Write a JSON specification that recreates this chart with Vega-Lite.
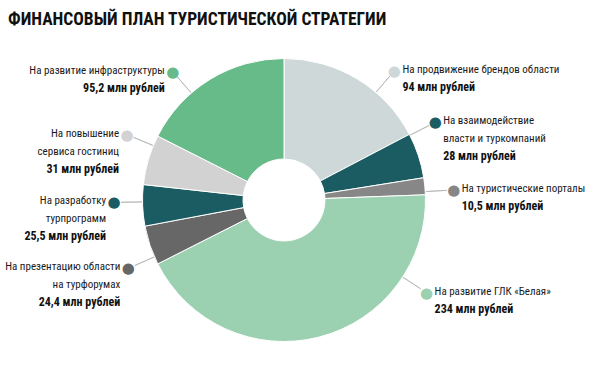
{
  "$schema": "https://vega.github.io/schema/vega-lite/v6.json",
  "autosize": {"type": "none"},
  "width": 568,
  "height": 320,
  "padding": {"left": 0, "top": 40, "right": 22, "bottom": 5},
  "background": "white",
  "config": {"view": {"stroke": null}},
  "title": {
    "text": "ФИНАНСОВЫЙ ПЛАН ТУРИСТИЧЕСКОЙ СТРАТЕГИИ",
    "anchor": "start",
    "frame": "group",
    "dx": 8,
    "offset": 12,
    "font": "Roboto Condensed, Roboto",
    "fontSize": 17.5,
    "fontWeight": "bold",
    "color": "#111111"
  },
  "data": {
    "values": [
      {"k": 1, "cat": "бренды", "value": 94, "name": ["На продвижение брендов области"], "amount": "94 млн рублей", "labelAngle": 40.5},
      {"k": 2, "cat": "туркомпании", "value": 28, "name": ["На взаимодействие", "власти и туркомпаний"], "amount": "28 млн рублей", "labelAngle": 62.8},
      {"k": 3, "cat": "порталы", "value": 10.5, "name": ["На туристические порталы"], "amount": "10,5 млн рублей", "labelAngle": 86.6},
      {"k": 4, "cat": "ГЛК", "value": 234, "name": ["На развитие ГЛК «Белая»"], "amount": "234 млн рублей", "labelAngle": 123},
      {"k": 5, "cat": "турфорумы", "value": 24.4, "name": ["На презентацию области", "на турфорумах"], "amount": "24,4 млн рублей", "labelAngle": 246.3},
      {"k": 6, "cat": "турпрограммы", "value": 25.5, "name": ["На разработку", "турпрограмм"], "amount": "25,5 млн рублей", "labelAngle": 269.2},
      {"k": 7, "cat": "гостиницы", "value": 31, "name": ["На повышение", "сервиса гостиниц"], "amount": "31 млн рублей", "labelAngle": 292.6},
      {"k": 8, "cat": "инфраструктура", "value": 95.2, "name": ["На развитие инфраструктуры"], "amount": "95,2 млн рублей", "labelAngle": 319.1}
    ]
  },
  "resolve": {"scale": {"theta": "independent"}},
  "layer": [
    {
      "mark": {"type": "arc", "radius": 163, "radius2": 142, "fill": null, "filled": false, "stroke": "#b5b5b5", "strokeWidth": 0.8},
      "encoding": {
        "theta": {"field": "labelAngle", "type": "quantitative", "stack": false, "scale": {"domain": [0, 360]}},
        "theta2": {"field": "labelAngle"}
      }
    },
    {
      "mark": {"type": "arc", "outerRadius": 141.5, "innerRadius": 41, "stroke": "white", "strokeWidth": 1},
      "encoding": {
        "theta": {"field": "value", "type": "quantitative", "stack": true},
        "order": {"field": "k", "type": "quantitative"},
        "color": {
          "field": "cat", "type": "nominal", "legend": null,
          "scale": {
            "domain": ["бренды", "туркомпании", "порталы", "ГЛК", "турфорумы", "турпрограммы", "гостиницы", "инфраструктура"],
            "range": ["#cfd8d8", "#1b5b62", "#878787", "#9bd1b1", "#676767", "#1b5b62", "#d2d2d2", "#66bb88"]
          }
        }
      }
    },
    {
      "mark": {"type": "text", "radius": 170, "text": "●", "font": "DejaVu Sans", "fontSize": 15, "align": "center", "baseline": "middle"},
      "encoding": {
        "theta": {"field": "labelAngle", "type": "quantitative", "stack": false, "scale": {"domain": [0, 360]}},
        "color": {"field": "cat", "type": "nominal", "legend": null}
      }
    },
    {
      "transform": [{"filter": "datum.labelAngle < 180"}],
      "mark": {"type": "text", "radius": 170, "align": "left", "baseline": "top", "dx": 8, "dy": -7, "lineHeight": 18, "font": "Roboto Condensed, Roboto", "fontSize": 11, "fill": "#1a1a1a"},
      "encoding": {
        "theta": {"field": "labelAngle", "type": "quantitative", "stack": false, "scale": {"domain": [0, 360]}},
        "text": {"field": "name"}
      }
    },
    {
      "transform": [{"filter": "datum.labelAngle >= 180"}],
      "mark": {"type": "text", "radius": 170, "align": "right", "baseline": "top", "dx": -8, "dy": -7, "lineHeight": 18, "font": "Roboto Condensed, Roboto", "fontSize": 11, "fill": "#1a1a1a"},
      "encoding": {
        "theta": {"field": "labelAngle", "type": "quantitative", "stack": false, "scale": {"domain": [0, 360]}},
        "text": {"field": "name"}
      }
    },
    {
      "transform": [{"filter": "datum.labelAngle < 180 && length(datum.name) == 1"}],
      "mark": {"type": "text", "radius": 170, "align": "left", "baseline": "top", "dx": 8, "dy": 11, "font": "Roboto Condensed, Roboto", "fontSize": 12, "fontWeight": "bold", "fill": "#111111"},
      "encoding": {
        "theta": {"field": "labelAngle", "type": "quantitative", "stack": false, "scale": {"domain": [0, 360]}},
        "text": {"field": "amount"}
      }
    },
    {
      "transform": [{"filter": "datum.labelAngle < 180 && length(datum.name) == 2"}],
      "mark": {"type": "text", "radius": 170, "align": "left", "baseline": "top", "dx": 8, "dy": 29, "font": "Roboto Condensed, Roboto", "fontSize": 12, "fontWeight": "bold", "fill": "#111111"},
      "encoding": {
        "theta": {"field": "labelAngle", "type": "quantitative", "stack": false, "scale": {"domain": [0, 360]}},
        "text": {"field": "amount"}
      }
    },
    {
      "transform": [{"filter": "datum.labelAngle >= 180 && length(datum.name) == 1"}],
      "mark": {"type": "text", "radius": 170, "align": "right", "baseline": "top", "dx": -8, "dy": 11, "font": "Roboto Condensed, Roboto", "fontSize": 12, "fontWeight": "bold", "fill": "#111111"},
      "encoding": {
        "theta": {"field": "labelAngle", "type": "quantitative", "stack": false, "scale": {"domain": [0, 360]}},
        "text": {"field": "amount"}
      }
    },
    {
      "transform": [{"filter": "datum.labelAngle >= 180 && length(datum.name) == 2"}],
      "mark": {"type": "text", "radius": 170, "align": "right", "baseline": "top", "dx": -8, "dy": 29, "font": "Roboto Condensed, Roboto", "fontSize": 12, "fontWeight": "bold", "fill": "#111111"},
      "encoding": {
        "theta": {"field": "labelAngle", "type": "quantitative", "stack": false, "scale": {"domain": [0, 360]}},
        "text": {"field": "amount"}
      }
    }
  ]
}
